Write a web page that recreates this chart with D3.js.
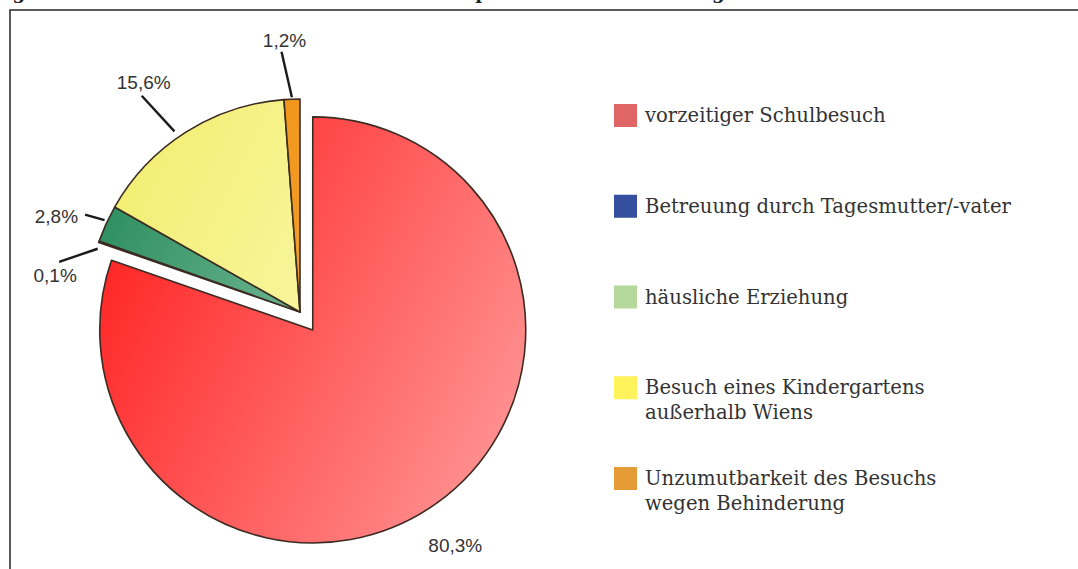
<!DOCTYPE html>
<html>
<head>
<meta charset="utf-8">
<script src="https://cdn.jsdelivr.net/npm/d3@7"></script>
<style>
  html, body { margin: 0; padding: 0; background: #fff; }
  svg { display: block; }
</style>
</head>
<body>
<div id="chart"></div>
<script>
// data
const categories = [
  'vorzeitiger Schulbesuch',
  'Betreuung durch Tagesmutter/-vater',
  'häusliche Erziehung',
  'Besuch eines Kindergartens außerhalb Wiens',
  'Unzumutbarkeit des Besuchs wegen Behinderung'
];
const legendLines = [
  ['vorzeitiger Schulbesuch'],
  ['Betreuung durch Tagesmutter/-vater'],
  ['häusliche Erziehung'],
  ['Besuch eines Kindergartens', 'außerhalb Wiens'],
  ['Unzumutbarkeit des Besuchs', 'wegen Behinderung']
];
const shares = [80.3, 0.1, 2.8, 15.6, 1.2];
const titleText = 'Abbildung 9: Anteile der Ausnahmen von der Besuchspflicht nach Ausnahmegrund';

// styles
const legendColors = ['#e06666', '#354f9f', '#b5d99c', '#fff35c', '#e59c37'];
const sliceGradients = [
  ['#ff2424', '#ff9696'],
  ['#15224d', '#34487f'],
  ['#2c8e5e', '#b0dcc6'],
  ['#f3ee72', '#fcfcc8'],
  ['#ee8c0c', '#f8b448']
];
// leader line / label placement per slice (radii in px, angle nudges in degrees)
const labelLayout = [
  {leader: false, r: 256, anchor: 'middle', dx: -6, dy: 14},
  {leader: true, r1: 212, r2: 246, a1: -1.9, a2: -7.5, anchor: 'middle', dx: -4, dy: 20},
  {leader: true, r1: 216, r2: 236, a1: 0.7, a2: -0.1, anchor: 'end', dx: -7, dy: 8},
  {leader: true, r1: 220, r2: 268, a1: -2.4, a2: -3.8, anchor: 'middle', dx: 2, dy: -7},
  {leader: true, r1: 215, r2: 261, a1: 0, a2: -1.9, anchor: 'middle', dx: 3, dy: -5}
];

const config = {
  width: 1078,
  height: 569,
  cx: 300,
  cy: 312,
  radius: 213,
  explode: 22,
  legendX: 614,
  legendTop: 104,
  legendBottom: 467,
  swatch: 23
};

const fmt = d3.formatLocale({decimal: ',', thousands: '.', grouping: [3], currency: ['', '€']}).format('.1f');

const svg = d3.select('#chart').append('svg')
  .attr('width', config.width)
  .attr('height', config.height);

function polar(angleDeg, r, c) {
  const a = angleDeg * Math.PI / 180;
  return [c[0] + r * Math.sin(a), c[1] - r * Math.cos(a)];
}

function drawFrame() {
  svg.append('rect')
    .attr('x', 10)
    .attr('y', 10)
    .attr('width', config.width + 40)
    .attr('height', config.height + 40)
    .attr('fill', 'none')
    .attr('stroke', '#4a4a4a')
    .attr('stroke-width', 1.8);
}

function drawTitle() {
  // only the descenders of the title remain visible above the frame
  const t = svg.append('text')
    .attr('font-family', 'DejaVu Serif')
    .attr('font-weight', 'bold')
    .attr('font-size', 20)
    .attr('fill', '#222')
    .attr('y', -1.5)
    .text(titleText);
  const node = t.node();
  const center = i => { const b = node.getExtentOfChar(i); return b.x + b.width / 2; };
  const gi = titleText.indexOf('g');
  const pi = titleText.indexOf('p');
  const size = 20 * (482 - 19) / (center(pi) - center(gi));
  t.attr('font-size', size);
  t.attr('x', 19 - center(gi));
}

function drawPie() {
  const pie = d3.pie().sort(null).value(d => d)(shares);
  const arc = d3.arc().innerRadius(0).outerRadius(config.radius);
  const defs = svg.append('defs');
  const r = config.radius;

  // gradient coordinates are local to each (translated) slice
  sliceGradients.forEach((c, i) => {
    const g = defs.append('linearGradient')
      .attr('id', `slice-grad-${i}`)
      .attr('gradientUnits', 'userSpaceOnUse')
      .attr('x1', -r).attr('y1', -r * 0.4)
      .attr('x2', r).attr('y2', r * 0.6);
    g.append('stop').attr('offset', 0).attr('stop-color', c[0]);
    g.append('stop').attr('offset', 1).attr('stop-color', c[1]);
  });

  const offset = (d, i) => {
    if (i !== 0) return [0, 0];
    const mid = (d.startAngle + d.endAngle) / 2;
    return [config.explode * Math.sin(mid), -config.explode * Math.cos(mid)];
  };

  svg.append('g')
    .selectAll('path')
    .data(pie)
    .enter()
    .append('path')
    .attr('transform', (d, i) => {
      const o = offset(d, i);
      return `translate(${config.cx + o[0]},${config.cy + o[1]})`;
    })
    .attr('d', arc)
    .attr('fill', (d, i) => `url(#slice-grad-${i})`)
    .attr('stroke', '#3b2b22')
    .attr('stroke-width', 1.6)
    .attr('stroke-linejoin', 'round');

  const labels = svg.append('g');
  pie.forEach((d, i) => {
    const lay = labelLayout[i];
    const o = offset(d, i);
    const c = [config.cx + o[0], config.cy + o[1]];
    const mid = (d.startAngle + d.endAngle) / 2 * 180 / Math.PI;
    let anchorPt;
    if (lay.leader) {
      const p1 = polar(mid + lay.a1, lay.r1, c);
      const p2 = polar(mid + lay.a2, lay.r2, c);
      labels.append('line')
        .attr('x1', p1[0]).attr('y1', p1[1])
        .attr('x2', p2[0]).attr('y2', p2[1])
        .attr('stroke', '#1a1a1a')
        .attr('stroke-width', 2.4);
      anchorPt = p2;
    } else {
      anchorPt = polar(mid, lay.r, c);
    }
    labels.append('text')
      .attr('x', anchorPt[0] + lay.dx)
      .attr('y', anchorPt[1] + lay.dy)
      .attr('text-anchor', lay.anchor)
      .attr('font-family', 'Liberation Sans, Arial, sans-serif')
      .attr('font-size', 19)
      .attr('fill', '#333')
      .text(fmt(d.data) + '%');
  });
}

function drawLegend() {
  const y = d3.scalePoint()
    .domain(categories)
    .range([config.legendTop, config.legendBottom]);
  const items = svg.append('g')
    .selectAll('g')
    .data(categories)
    .enter()
    .append('g')
    .attr('transform', d => `translate(${config.legendX},${y(d)})`);
  items.append('rect')
    .attr('width', config.swatch)
    .attr('height', config.swatch)
    .attr('fill', (d, i) => legendColors[i]);
  items.append('text')
    .attr('font-family', 'DejaVu Serif, serif')
    .attr('font-size', 19.6)
    .attr('fill', '#333')
    .selectAll('tspan')
    .data((d, i) => legendLines[i])
    .enter()
    .append('tspan')
    .attr('x', 31)
    .attr('y', (d, j) => 18 + j * 25)
    .text(d => d);
}

drawFrame();
drawTitle();
drawPie();
drawLegend();
</script>
</body>
</html>
